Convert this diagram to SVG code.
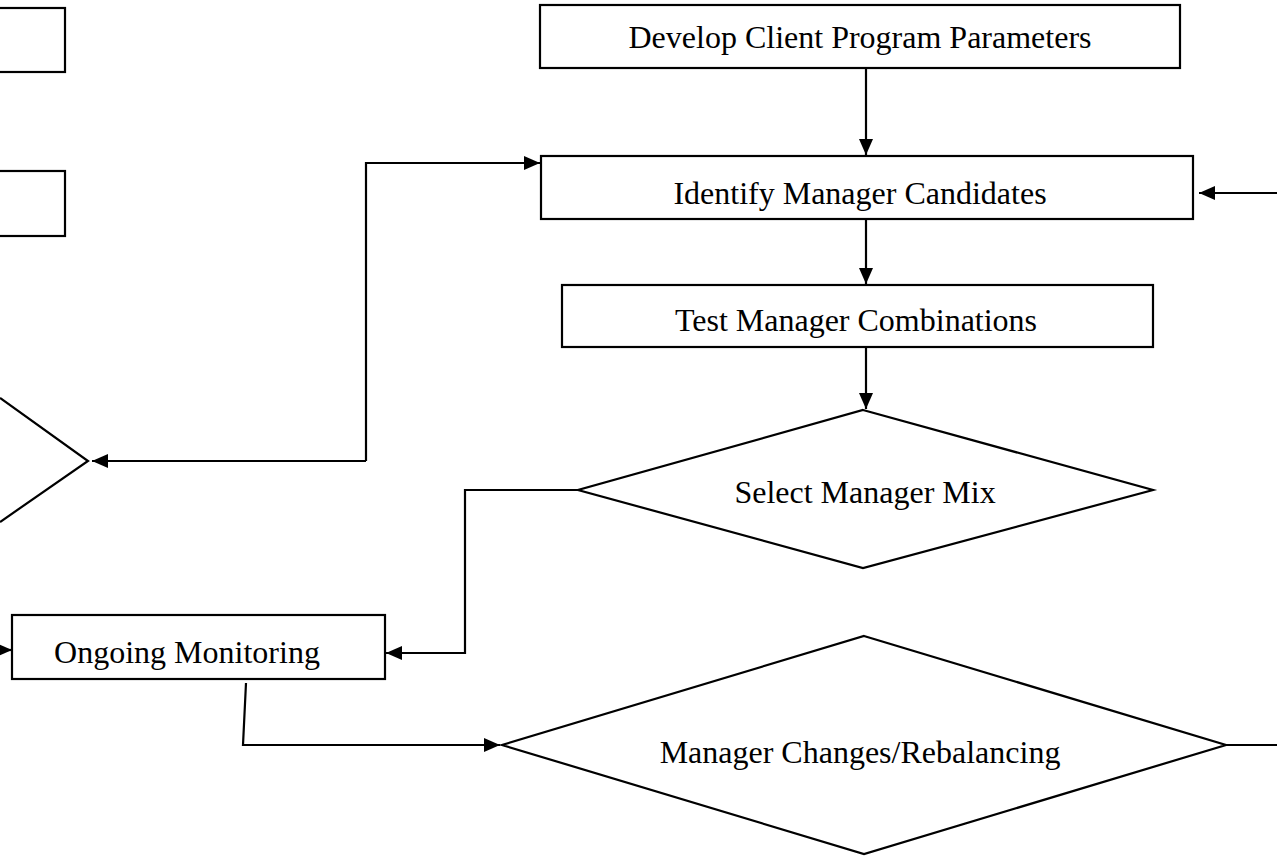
<svg xmlns="http://www.w3.org/2000/svg" width="1277" height="856" viewBox="0 0 1277 856">
<style>
.s{fill:#fff;stroke:#000;stroke-width:2.2}
.c{fill:none;stroke:#000;stroke-width:2.2}
.t{font-family:"Liberation Serif","Times New Roman",serif;font-size:32px;fill:#000;text-anchor:middle;dominant-baseline:central}
</style>
<defs>
<marker id="a" viewBox="0 0 16 14" refX="16" refY="7" markerWidth="16" markerHeight="14" markerUnits="userSpaceOnUse" orient="auto">
<path d="M0,0 L16,7 L0,14 Z" fill="#000"/>
</marker>
</defs>
<rect width="1277" height="856" fill="#fff"/>
<g id="left-box-1"><rect class="s" x="-10" y="8" width="75" height="64"/></g>
<g id="left-box-2"><rect class="s" x="-10" y="171" width="75" height="65"/></g>
<g id="left-diamond"><polyline class="c" points="0,398 88,461 0,522"/></g>
<g id="develop"><rect class="s" x="540" y="5" width="640" height="63"/><text class="t" x="860" y="37">Develop Client Program Parameters</text></g>
<g id="identify"><rect class="s" x="541" y="156" width="652" height="63"/><text class="t" x="860" y="193">Identify Manager Candidates</text></g>
<g id="test"><rect class="s" x="562" y="285" width="591" height="62"/><text class="t" x="856" y="320">Test Manager Combinations</text></g>
<g id="select"><polygon class="s" points="863,410 1153,490 863,568 578,490"/><text class="t" x="865" y="492">Select Manager Mix</text></g>
<g id="ongoing"><rect class="s" x="12" y="615" width="373" height="64"/><text class="t" x="187" y="652">Ongoing Monitoring</text></g>
<g id="changes"><polygon class="s" points="864,636 1226,745 864,854 502,745"/><text class="t" x="860" y="752">Manager Changes/Rebalancing</text></g>
<g id="connectors">
<line class="c" x1="866" y1="69" x2="866" y2="155" marker-end="url(#a)"/>
<line class="c" x1="866" y1="220" x2="866" y2="284" marker-end="url(#a)"/>
<line class="c" x1="866" y1="348" x2="866" y2="409" marker-end="url(#a)"/>
<polyline class="c" points="1277,193 1199,193" marker-end="url(#a)"/>
<polyline class="c" points="366,461 366,163 540,163" marker-end="url(#a)"/>
<polyline class="c" points="366,461 92,461" marker-end="url(#a)"/>
<polyline class="c" points="578,490 465,490 465,653 386,653" marker-end="url(#a)"/>
<polyline class="c" points="-5,650 12,650" marker-end="url(#a)"/>
<polyline class="c" points="246,683 243,745 500,745" marker-end="url(#a)"/>
<line class="c" x1="1226" y1="745" x2="1277" y2="745"/>
</g>
</svg>
